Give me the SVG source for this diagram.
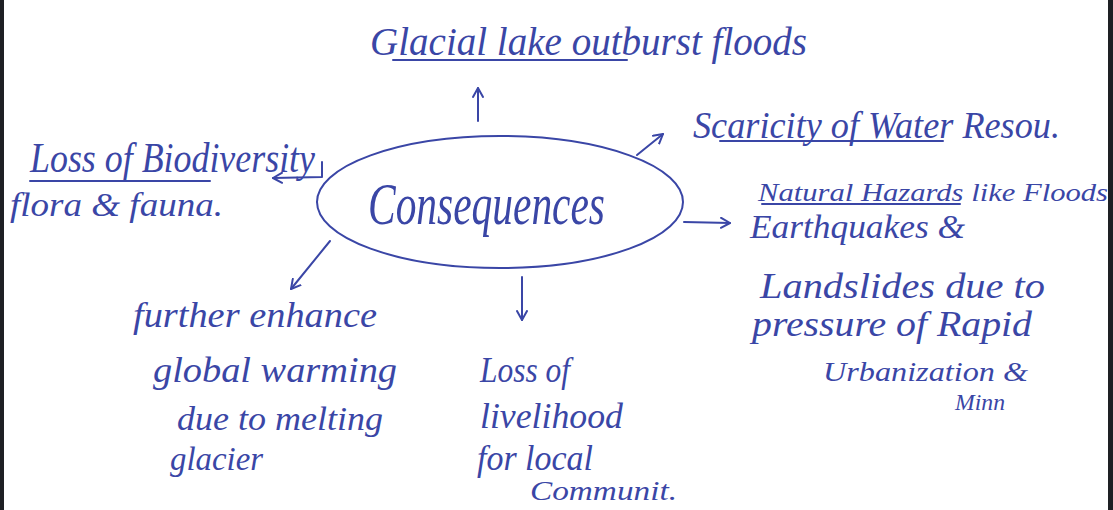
<svg xmlns="http://www.w3.org/2000/svg" width="1113" height="510" viewBox="0 0 1113 510">
  <style>
    .ink { fill: #3a46a6; font-family: "Liberation Serif", "DejaVu Serif", serif; font-style: italic; }
    .line { fill: none; stroke: #3a46a6; stroke-width: 2; stroke-linecap: round; stroke-linejoin: round; }
  </style>
  <defs>
    <marker id="arrow" viewBox="0 0 12 12" refX="10" refY="6" markerWidth="12" markerHeight="12" markerUnits="userSpaceOnUse" orient="auto">
      <path d="M1,1 L10,6 L1,11" fill="none" stroke="#3a46a6" stroke-width="2" stroke-linecap="round" stroke-linejoin="round"/>
    </marker>
  </defs>

  <!-- paper -->
  <rect x="0" y="0" width="1113" height="510" fill="#ffffff"/>
  <rect x="0" y="0" width="4" height="510" fill="#1e2024"/>
  <rect x="1108" y="0" width="5" height="510" fill="#1e2024"/>

  <!-- connectors -->
  <g id="connectors">
    <path class="line" d="M478,121 L478,88" marker-end="url(#arrow)"/>
    <path class="line" d="M322,162 L322,177 L273,178" marker-end="url(#arrow)"/>
    <path class="line" d="M637,155 L663,134" marker-end="url(#arrow)"/>
    <path class="line" d="M684,222 L730,223" marker-end="url(#arrow)"/>
    <path class="line" d="M330,241 L291,289" marker-end="url(#arrow)"/>
    <path class="line" d="M522,277 L522,320" marker-end="url(#arrow)"/>
  </g>

  <!-- central idea -->
  <g id="consequences">
    <ellipse class="line" cx="500" cy="202" rx="183" ry="66"/>
    <text class="ink" x="368" y="224" font-size="60" textLength="237" lengthAdjust="spacingAndGlyphs">Consequences</text>
  </g>

  <g id="glacial-floods">
    <text class="ink" x="370" y="55" font-size="40" textLength="437" lengthAdjust="spacingAndGlyphs">Glacial lake outburst floods</text>
    <path class="line" d="M393,60 L627,60"/>
  </g>

  <g id="water-scarcity">
    <text class="ink" x="693" y="138" font-size="38" textLength="367" lengthAdjust="spacingAndGlyphs">Scaricity of Water Resou.</text>
    <path class="line" d="M720,141 L943,141"/>
  </g>

  <g id="biodiversity">
    <text class="ink" x="30" y="172" font-size="42" textLength="285" lengthAdjust="spacingAndGlyphs">Loss of Biodiversity</text>
    <path class="line" d="M30,181 L210,181"/>
    <text class="ink" x="10" y="216" font-size="34" textLength="213" lengthAdjust="spacingAndGlyphs">flora &amp; fauna.</text>
  </g>

  <g id="natural-hazards">
    <text class="ink" x="758" y="201" font-size="26" textLength="350" lengthAdjust="spacingAndGlyphs">Natural Hazards like Floods</text>
    <path class="line" d="M762,204 L960,204"/>
    <text class="ink" x="750" y="238" font-size="34" textLength="215" lengthAdjust="spacingAndGlyphs">Earthquakes &amp;</text>
    <text class="ink" x="760" y="298" font-size="36" textLength="285" lengthAdjust="spacingAndGlyphs">Landslides due to</text>
    <text class="ink" x="752" y="336" font-size="36" textLength="280" lengthAdjust="spacingAndGlyphs">pressure of Rapid</text>
    <text class="ink" x="823" y="381" font-size="28" textLength="205" lengthAdjust="spacingAndGlyphs">Urbanization &amp;</text>
    <text class="ink" x="955" y="410" font-size="24" textLength="50" lengthAdjust="spacingAndGlyphs">Minn</text>
  </g>

  <g id="global-warming">
    <text class="ink" x="133" y="327" font-size="36" textLength="244" lengthAdjust="spacingAndGlyphs">further enhance</text>
    <text class="ink" x="153" y="382" font-size="36" textLength="244" lengthAdjust="spacingAndGlyphs">global warming</text>
    <text class="ink" x="177" y="430" font-size="34" textLength="206" lengthAdjust="spacingAndGlyphs">due to melting</text>
    <text class="ink" x="170" y="470" font-size="34" textLength="93" lengthAdjust="spacingAndGlyphs">glacier</text>
  </g>

  <g id="livelihood">
    <text class="ink" x="480" y="382" font-size="36" textLength="90" lengthAdjust="spacingAndGlyphs">Loss of</text>
    <text class="ink" x="480" y="428" font-size="36" textLength="143" lengthAdjust="spacingAndGlyphs">livelihood</text>
    <text class="ink" x="477" y="470" font-size="36" textLength="116" lengthAdjust="spacingAndGlyphs">for local</text>
    <text class="ink" x="530" y="500" font-size="28" textLength="147" lengthAdjust="spacingAndGlyphs">Communit.</text>
  </g>
</svg>
